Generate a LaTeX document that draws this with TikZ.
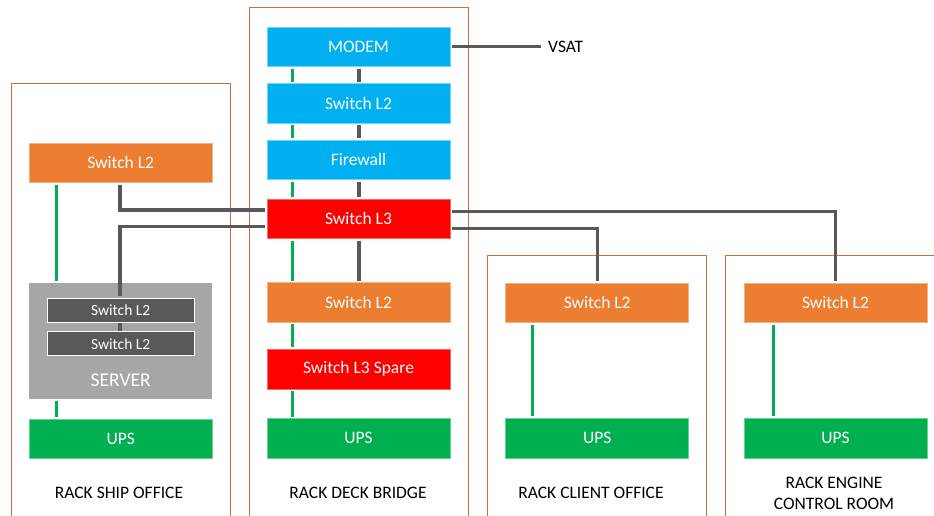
\documentclass[tikz,border=0pt]{standalone}
\usepackage{fontspec}
\setmainfont{Carlito}
\usetikzlibrary{calc}
\definecolor{cblue}{HTML}{00B0F0}
\definecolor{corange}{HTML}{ED7D31}
\definecolor{cred}{HTML}{FF0000}
\definecolor{cgreen}{HTML}{00B050}
\definecolor{cdark}{HTML}{595959}
\definecolor{cgray}{HTML}{A6A6A6}
\definecolor{crack}{HTML}{C8703A}
\begin{document}
\begin{tikzpicture}[x=1pt,y=-1pt,
  dev/.style={rectangle, inner sep=0pt, minimum width=183pt, minimum height=39.6pt, text=white, font=\fontsize{17.5}{21}\selectfont},
  bluebox/.style={dev, fill=cblue, draw=cblue!55!white, line width=0.6pt},
  orangebox/.style={dev, fill=corange, draw=corange!60!white, line width=0.6pt},
  redbox/.style={dev, fill=cred, draw=cred!60!white, line width=0.6pt},
  greenbox/.style={dev, fill=cgreen, draw=cgreen!60!white, line width=0.6pt},
  innersw/.style={rectangle, inner sep=0pt, minimum width=146.7pt, minimum height=24pt, fill=cdark, draw=white, line width=1pt, text=white, font=\fontsize{15.5}{18}\selectfont},
  serverbox/.style={rectangle, inner sep=0pt, minimum width=182.7pt, minimum height=116.3pt, fill=cgray},
  data/.style={draw=cdark, line width=3.2pt, shorten <=1.7pt, shorten >=1.5pt},
  power/.style={draw=cgreen, line width=3pt, shorten <=1.7pt, shorten >=1.5pt},
  rack/.style={draw=crack, line width=0.8pt},
  lbl/.style={text=black, align=center, inner sep=0pt, font=\fontsize{17.5}{21}\selectfont}
]
\useasboundingbox (0,0) rectangle (934,515);
\clip (0,0) rectangle (934,515);

% racks
\draw[rack] (11,520) -- (11,83) -- (230,83) -- (230,520);
\draw[rack] (249.5,520) -- (249.5,7.3) -- (468,7.3) -- (468,520);
\draw[rack] (487.3,520) -- (487.3,255.7) -- (706.3,255.7) -- (706.3,520);
\draw[rack] (725.7,520) -- (725.7,255.7) -- (940,255.7);

% deck bridge
\node[bluebox] (modem) at (358.5,46.8) {MODEM};
\node[bluebox] (dsw2) at (358.5,103.2) {Switch L2};
\node[bluebox] (fw) at (358.5,159.8) {Firewall};
\node[redbox] (l3) at (358.5,218.8) {Switch L3};
\node[orangebox] (dl2) at (358.5,302.5) {Switch L2};
\node[redbox] (spare) at (358.5,369) {Switch L3 Spare};
\node[greenbox] (dups) at (358.5,438.2) {UPS};
\node[lbl] (dlab) at (358,493.3) {RACK DECK BRIDGE};
\node[lbl, anchor=west] (vsat) at (548,46.8) {VSAT};

% ship office
\node[orangebox, minimum width=182.7pt] (sl2) at (120.7,162.7) {Switch L2};
\node[serverbox] (server) at (120.7,340.8) {};
\node[innersw] (in1) at (120.7,310.3) {Switch L2};
\node[innersw] (in2) at (120.7,343.7) {Switch L2};
\node[text=white, inner sep=0pt, font=\fontsize{19.5}{23}\selectfont] (srvtxt) at (120.7,380) {SERVER};
\node[greenbox, minimum width=182.7pt] (sups) at (120.7,438.8) {UPS};
\node[lbl] (slab) at (119,493) {RACK SHIP OFFICE};

% client office
\node[orangebox] (cl2) at (597.2,302.7) {Switch L2};
\node[greenbox] (cups) at (597.2,438) {UPS};
\node[lbl] (clab) at (591,493.3) {RACK CLIENT OFFICE};

% engine control room
\node[orangebox] (el2) at (835.5,302.7) {Switch L2};
\node[greenbox] (eups) at (835.5,438) {UPS};
\node[lbl] (elab) at (834,493) {RACK ENGINE\\CONTROL ROOM};

% x positions
\coordinate (gx) at (292.3,0);
\coordinate (dx) at (359,0);
\coordinate (sgx) at (56.7,0);
\coordinate (sdx) at (120,0);
\coordinate (cgx) at (532.7,0);
\coordinate (cdx) at (597.3,0);
\coordinate (egx) at (773.7,0);
\coordinate (edx) at (835.3,0);

% deck power
\draw[power] (modem.south -| gx) -- (dsw2.north -| gx);
\draw[power] (dsw2.south -| gx) -- (fw.north -| gx);
\draw[power] (fw.south -| gx) -- (l3.north -| gx);
\draw[power] (l3.south -| gx) -- (dl2.north -| gx);
\draw[power] (dl2.south -| gx) -- (spare.north -| gx);
\draw[power] (spare.south -| gx) -- (dups.north -| gx);
% deck data
\draw[data] (modem.south -| dx) -- (dsw2.north -| dx);
\draw[data] (dsw2.south -| dx) -- (fw.north -| dx);
\draw[data] (fw.south -| dx) -- (l3.north -| dx);
\draw[data] (l3.south -| dx) -- (dl2.north -| dx);
\draw[data] (modem.east) -- ([xshift=-6pt]vsat.west);

% ship office
\draw[power] (sl2.south -| sgx) -- (server.north -| sgx);
\draw[power] (server.south -| sgx) -- (sups.north -| sgx);
\draw[data] (sl2.south -| sdx) |- ([yshift=8.8pt]l3.west);
\draw[data] ([yshift=-7.9pt]l3.west) -| (in1.north -| sdx);
\draw[data, shorten <=0pt, shorten >=0pt] (in1.south -| sdx) -- (in2.north -| sdx);

% client / engine
\draw[data] ([yshift=-9.7pt]l3.east) -| (cl2.north -| cdx);
\draw[data] ([yshift=7pt]l3.east) -| (el2.north -| edx);
\draw[power] (cl2.south -| cgx) -- (cups.north -| cgx);
\draw[power] (el2.south -| egx) -- (eups.north -| egx);
\end{tikzpicture}
\end{document}
